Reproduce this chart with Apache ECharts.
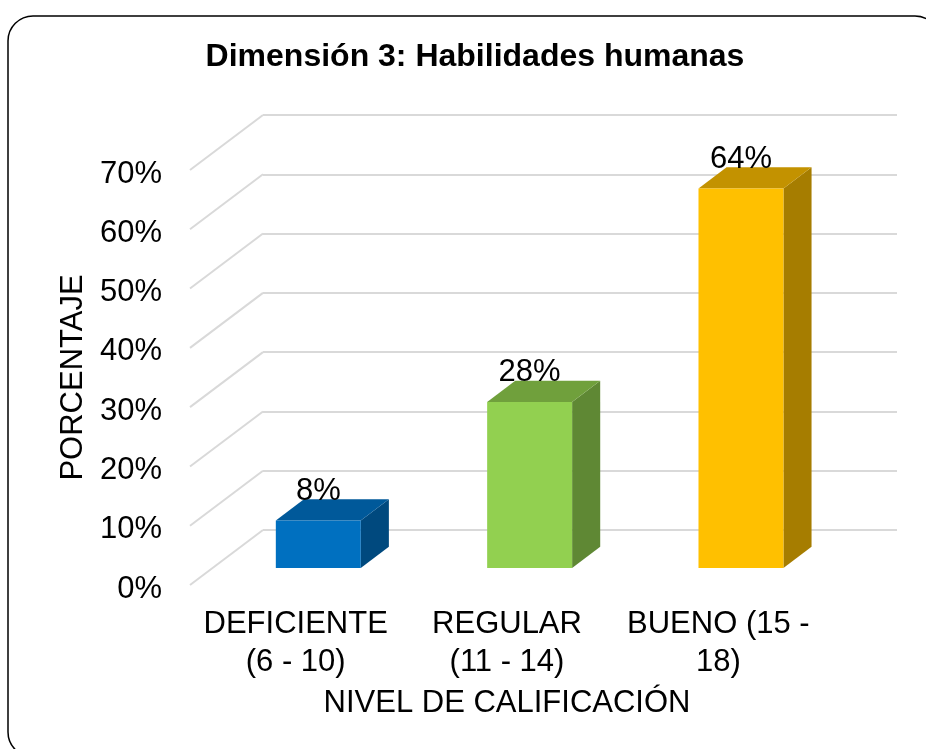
<!DOCTYPE html>
<html>
<head>
<meta charset="utf-8">
<script src="https://cdn.jsdelivr.net/npm/echarts@6/dist/echarts.min.js"></script>
<style>
  html, body { margin: 0; padding: 0; background: #fff; }
  #chart { width: 926px; height: 749px; }
</style>
</head>
<body>
<div id="chart"></div>
<script>
  // datos
  const categories = ['DEFICIENTE\n(6 - 10)', 'REGULAR\n(11 - 14)', 'BUENO (15 -\n18)'];
  const values = [8, 28, 64];
  const yTicks = [0, 10, 20, 30, 40, 50, 60, 70];

  // colores: frente, arriba, lado
  const palette = [
    ['#0070C0', '#00599A', '#00497E'],
    ['#92D050', '#70A03C', '#5F8834'],
    ['#FFC000', '#C39200', '#A67D00']
  ];

  const font = 'Liberation Sans, Arial, sans-serif';
  // piso frontal y profundidad (perspectiva oblicua)
  const floorLeft = 190, floorBottom = 585, plotW = 634, plotH = 415;
  const depthX = 73, depthY = 55;
  const barFront = 0.31, barDepth = 0.385, barWidth = 0.402;

  const myChart = echarts.init(document.getElementById('chart'));

  const option = {
    animation: false,
    title: {
      text: 'Dimensión 3: Habilidades humanas',
      left: 475,
      top: 41,
      padding: 0,
      textAlign: 'center',
      textStyle: { fontFamily: font, fontSize: 32, fontWeight: 'bold', color: '#000' }
    },
    graphic: [{
      type: 'rect',
      shape: { x: 8, y: 16, width: 932, height: 741, r: 25 },
      style: { fill: 'none', stroke: '#000', lineWidth: 1.5 },
      silent: true
    }],
    grid: [
      // plano frontal de las barras
      { left: floorLeft + depthX * barFront, top: floorBottom - depthY * barFront - plotH, width: plotW, height: plotH },
      // pared del fondo
      { left: floorLeft + depthX, top: floorBottom - depthY - plotH, width: plotW, height: plotH },
      // borde frontal (ejes)
      { left: floorLeft, top: floorBottom - plotH, width: plotW, height: plotH }
    ],
    xAxis: [
      { gridIndex: 0, type: 'category', data: categories, show: false },
      { gridIndex: 1, type: 'value', min: 0, max: 1, show: false },
      {
        gridIndex: 2, type: 'category', data: categories,
        axisLine: { show: false }, axisTick: { show: false },
        axisLabel: { interval: 0, fontFamily: font, fontSize: 31, color: '#000', lineHeight: 38, margin: 20 },
        name: 'NIVEL DE CALIFICACIÓN',
        nameLocation: 'middle',
        nameGap: 103,
        nameTextStyle: { fontFamily: font, fontSize: 31, color: '#000' }
      }
    ],
    yAxis: [
      { gridIndex: 0, type: 'value', min: 0, max: 70, show: false },
      {
        gridIndex: 1, type: 'value', min: 0, max: 70, interval: 10,
        axisLine: { show: false }, axisTick: { show: false }, axisLabel: { show: false },
        splitLine: { lineStyle: { color: '#D9D9D9', width: 2 } }
      },
      {
        gridIndex: 2, type: 'value', min: 0, max: 70, interval: 10,
        axisLine: { show: false }, axisTick: { show: false }, splitLine: { show: false },
        axisLabel: {
          formatter: '{value}%', fontFamily: font, fontSize: 31, color: '#000', margin: 28,
          verticalAlign: 'top', lineHeight: 8
        },
        name: 'PORCENTAJE',
        nameLocation: 'middle',
        nameRotate: 90,
        nameGap: 99,
        nameTextStyle: { fontFamily: font, fontSize: 31, color: '#000' }
      }
    ],
    series: [
      {
        // líneas diagonales de las paredes
        type: 'custom',
        xAxisIndex: 1,
        yAxisIndex: 1,
        silent: true,
        data: yTicks.map(v => [0, v]),
        renderItem: function (params, api) {
          const p = api.coord([0, api.value(1)]);
          return {
            type: 'line',
            shape: { x1: p[0] - depthX, y1: p[1] + depthY, x2: p[0], y2: p[1] },
            style: { stroke: '#D9D9D9', lineWidth: 2 }
          };
        }
      },
      {
        type: 'custom',
        xAxisIndex: 0,
        yAxisIndex: 0,
        clip: false,
        z: 5,
        data: values.map((v, i) => [i, v]),
        renderItem: function (params, api) {
          const i = api.value(0);
          const top = api.coord([i, api.value(1)]);
          const base = api.coord([i, 0]);
          const w = api.size([1, 0])[0] * barWidth;
          const dx = depthX * barDepth, dy = depthY * barDepth;
          const x0 = top[0] - w / 2, x1 = top[0] + w / 2;
          const yt = top[1], yb = base[1];
          const c = palette[i];
          return {
            type: 'group',
            children: [
              {
                type: 'polygon',
                shape: { points: [[x1, yt], [x1 + dx, yt - dy], [x1 + dx, yb - dy], [x1, yb]] },
                style: { fill: c[2] }
              },
              {
                type: 'polygon',
                shape: { points: [[x0, yt], [x1, yt], [x1 + dx, yt - dy], [x0 + dx, yt - dy]] },
                style: { fill: c[1] }
              },
              {
                type: 'rect',
                shape: { x: x0, y: yt, width: w, height: yb - yt },
                style: { fill: c[0] }
              },
              {
                type: 'text',
                style: {
                  x: top[0], y: yt - 29,
                  text: api.value(1) + '%',
                  fontFamily: font, fontSize: 31, fill: '#000',
                  align: 'center', verticalAlign: 'middle'
                }
              }
            ]
          };
        }
      }
    ]
  };

  myChart.setOption(option);
</script>
</body>
</html>
